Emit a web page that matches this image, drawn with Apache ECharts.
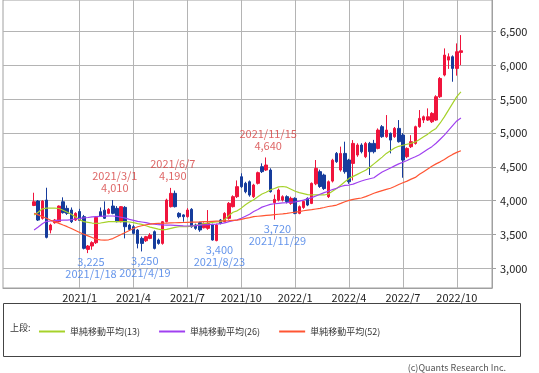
<!DOCTYPE html>
<html><head><meta charset="utf-8">
<script src="https://cdn.jsdelivr.net/npm/echarts@6/dist/echarts.min.js"></script>
<style>html,body{margin:0;padding:0;background:#fff}#c{width:539px;height:373px}</style>
</head><body><div id="c"></div>
<script>
const FONT = '"Noto Sans CJK JP","Noto Sans",sans-serif';
// weekly category axis
const firstWeek = [2020, 8, 31];
const weekCount = 118;
const candleStart = '2020/10/19';
// weekly candles (from 2020/10/19)
const opens = [3930,3995,3739,4010,3566,3675,3690,3985,3887,3862,
3714,3840,3764,3280,3330,3379,3838,3860,3813,3921,
3887,3690,3902,3640,3616,3566,3443,3408,3443,3542,
3419,3369,3690,3912,4109,3813,3790,3764,3873,3641,
3675,3600,3591,3641,3410,3715,3690,3739,3912,4060,
4355,4257,4281,4060,4257,4503,4454,4454,3971,4010,
4010,4060,3961,4035,3813,3900,4035,3960,4250,4430,
4380,4060,4290,4700,4454,4700,4602,4552,4676,4824,
4651,4848,4848,4774,5095,4947,4996,4947,5070,4972,
4651,4799,4848,5095,5193,5193,5168,5193,5538,5859,
6080,6130,5957,6194];
const closes = [3985,3714,3995,3458,3640,3714,3921,3823,3813,3690,
3813,3710,3296,3330,3380,3754,3774,3740,3872,3813,
3690,3912,3616,3576,3517,3369,3369,3468,3492,3295,
3369,3690,4010,4109,3912,3764,3764,3862,3616,3591,
3567,3660,3665,3419,3641,3665,3813,3961,4060,4208,
4207,4133,4084,4232,4415,4430,4528,4134,4020,4158,
4060,3986,4035,3813,3912,3990,3936,4257,4478,4210,
4180,4281,4600,4577,4700,4429,4281,4848,4824,4725,
4848,4725,4725,5045,4947,5045,4897,5070,4873,4601,
4774,4873,5095,5218,5242,5242,5292,5538,5809,6154,
6130,5957,6204,6218];
const lows = [3920,3700,3720,3443,3517,3660,3680,3810,3790,3670,
3700,3700,3280,3225,3275,3360,3760,3730,3800,3800,
3680,3680,3443,3560,3500,3295,3250,3390,3430,3280,
3350,3350,3680,3900,3900,3740,3690,3750,3600,3570,
3540,3590,3570,3410,3400,3650,3680,3720,3900,4040,
4190,4110,4060,4040,4240,4410,4440,4120,3720,3990,
3990,3960,3940,3800,3800,3880,3920,3950,4230,4190,
4160,4040,4270,4560,4430,4400,4250,4300,4650,4700,
4630,4380,4700,4760,4930,4930,4700,4930,4860,4340,
4630,4780,4830,5080,5150,5180,5150,5180,5520,5840,
5950,5760,5850,6006];
const highs = [4118,4010,4010,4192,3660,3730,3930,4050,3930,3900,
3830,3880,3790,3345,3400,3770,3900,3990,3890,4010,
3920,3920,3920,3660,3640,3580,3470,3480,3520,3560,
3440,3700,4030,4190,4150,3830,3800,3890,3890,3660,
3690,3680,3862,3660,3660,3730,3830,3980,4080,4300,
4405,4280,4300,4250,4430,4553,4640,4480,4090,4180,
4080,4080,4060,4050,3930,4000,4050,4270,4602,4460,
4400,4300,4620,4720,4800,4873,4620,4897,4850,4850,
4870,4870,4900,5070,5119,5267,5010,5090,5193,5000,
4790,4970,5110,5341,5260,5366,5310,5560,5830,6253,
6180,6150,6327,6450];
// moving averages
const ma13 = [3790,3830,3880,3890,3890,3890,3885,3860,3830,3800,
3760,3720,3690,3680,3670,3665,3670,3680,3690,3690,
3690,3690,3690,3685,3675,3660,3650,3630,3610,3595,
3580,3570,3575,3590,3605,3615,3615,3616,3625,3635,
3645,3660,3670,3680,3685,3690,3720,3780,3830,3850,
3890,3940,3980,4015,4060,4100,4125,4160,4180,4205,
4210,4200,4170,4140,4120,4105,4090,4085,4085,4085,
4085,4100,4140,4180,4230,4280,4330,4360,4390,4420,
4450,4495,4545,4595,4645,4700,4740,4780,4805,4820,
4835,4850,4870,4905,4945,4985,5030,5070,5150,5240,
5340,5440,5540,5610];
const ma26 = [3566,3610,3660,3695,3700,3705,3710,3712,3714,3720,
3730,3740,3745,3752,3760,3764,3768,3772,3774,3774,
3768,3755,3742,3725,3710,3695,3685,3675,3662,3652,
3645,3642,3640,3638,3636,3632,3628,3626,3628,3632,
3638,3642,3646,3650,3653,3660,3672,3690,3705,3716,
3740,3770,3800,3840,3870,3905,3925,3945,3955,3962,
3968,3972,3978,3984,3995,4010,4028,4045,4070,4095,
4120,4140,4165,4185,4210,4228,4232,4245,4270,4292,
4310,4325,4340,4385,4425,4455,4485,4515,4545,4570,
4595,4625,4650,4680,4720,4760,4800,4850,4910,4970,
5040,5110,5180,5225];
const ma52 = [3815,3790,3765,3740,3710,3690,3665,3640,3616,3590,
3560,3530,3505,3480,3455,3430,3420,3418,3422,3440,
3470,3500,3530,3560,3590,3615,3630,3645,3655,3660,
3664,3667,3670,3672,3674,3676,3678,3680,3682,3684,
3686,3690,3692,3695,3698,3700,3703,3706,3710,3714,
3725,3738,3750,3764,3770,3776,3782,3788,3794,3800,
3806,3813,3822,3830,3840,3852,3860,3868,3878,3887,
3900,3915,3925,3936,3960,3985,4005,4020,4030,4040,
4060,4085,4110,4130,4150,4168,4185,4210,4240,4265,
4290,4320,4345,4390,4430,4470,4510,4545,4575,4610,
4650,4685,4715,4740];
const maNames = ['単純移動平均(13)','単純移動平均(26)','単純移動平均(52)'];
const maColors = ['#a6d22a','#a040f0','#ff5533'];
// axis ticks
const quarterDates = ['2021/1/4','2021/4/5','2021/7/5','2021/10/4','2022/1/3','2022/4/4','2022/7/4','2022/10/3'];
const quarterLabels = ['2021/1','2021/4','2021/7','2021/10','2022/1','2022/4','2022/7','2022/10'];
const yTicks = [3000,3500,4000,4500,5000,5500,6000,6500];
// annotations
const highMarkDates = ['2021/3/1','2021/6/7','2021/11/15'];
const highMarkValues = [4010,4190,4640];
const lowMarkDates = ['2021/1/18','2021/4/19','2021/8/23','2021/11/29'];
const lowMarkValues = [3225,3250,3400,3720];

function fmtDate(d){return d.getUTCFullYear()+'/'+(d.getUTCMonth()+1)+'/'+d.getUTCDate();}
const cats = [];
const t0 = Date.UTC(firstWeek[0], firstWeek[1]-1, firstWeek[2]);
for (let i=0;i<weekCount;i++) cats.push(fmtDate(new Date(t0 + i*7*86400000)));
const s0 = cats.indexOf(candleStart);
const pad = arr => cats.map((c,i)=>{const k=i-s0; return (k>=0 && k<arr.length) ? arr[k] : '-';});
const candleData = cats.map((c,i)=>{const k=i-s0; return (k>=0 && k<opens.length) ? [opens[k],closes[k],lows[k],highs[k]] : '-';});
const fmtNum = v => Number(v).toLocaleString('en-US');
const isQuarter = (idx, val) => quarterDates.indexOf(val) >= 0;

const chart = echarts.init(document.getElementById('c'), null, {renderer:'canvas'});
const series = [{
  type:'candlestick', data:candleData, barWidth:3,
  itemStyle:{color:'#f0143c', color0:'#163c9c', borderColor:'#f0143c', borderColor0:'#163c9c', borderWidth:1}
}];
maNames.forEach((n,j)=>{
  series.push({type:'line', name:n, data:pad([ma13,ma26,ma52][j]), showSymbol:false, symbol:'none',
    itemStyle:{color:maColors[j]}, lineStyle:{width:1.2, color:maColors[j]}, z:3});
});
series.push({type:'scatter', symbolSize:0, z:5,
  data: highMarkDates.map((d,i)=>[d, highMarkValues[i]]),
  label:{show:true, position:'top', distance:6, offset:[2,0], color:'#d64040', fontSize:11, lineHeight:12, fontFamily:FONT,
    formatter:p=>p.value[0]+'\n'+fmtNum(p.value[1])}
});
series.push({type:'scatter', symbolSize:0, z:5,
  data: lowMarkDates.map((d,i)=>[d, lowMarkValues[i]]),
  label:{show:true, position:'bottom', distance:3, offset:[3,0], color:'#3f7be6', fontSize:11, lineHeight:12, fontFamily:FONT,
    formatter:p=>fmtNum(p.value[1])+'\n'+p.value[0]}
});

chart.setOption({
  animation:false,
  textStyle:{fontFamily:FONT},
  grid:{left:3, right:47, top:0, bottom:85, show:true, borderColor:'#a0a0a0', borderWidth:1},
  xAxis:{type:'category', data:cats, boundaryGap:true,
    axisLine:{show:true, lineStyle:{color:'#a0a0a0'}},
    axisTick:{show:true, inside:true, length:288, alignWithLabel:true, interval:isQuarter, lineStyle:{color:'#b4b4b4'}},
    axisLabel:{interval:isQuarter, margin:4, color:'#222', fontSize:11, fontFamily:FONT,
      formatter:v=>quarterLabels[quarterDates.indexOf(v)]},
    splitLine:{show:false}},
  yAxis:{type:'value', position:'right', min:2709, max:6969, scale:true, splitNumber:8,
    axisLine:{show:true, lineStyle:{color:'#a0a0a0'}},
    axisTick:{show:true, length:4, customValues:yTicks, lineStyle:{color:'#a0a0a0'}},
    axisLabel:{customValues:yTicks, margin:8, color:'#222', fontSize:11, fontFamily:FONT, formatter:v=>fmtNum(v)},
    splitLine:{show:true, lineStyle:{color:'#b4b4b4'}}},
  legend:{data:maNames.map((n,j)=>({name:n, icon:'rect', itemStyle:{color:maColors[j], borderWidth:0}})),
    left:34, top:322, itemWidth:26, itemHeight:2, itemGap:19, selectedMode:false,
    textStyle:{fontSize:9, color:'#333', fontFamily:FONT}},
  graphic:[
    {type:'rect', shape:{x:3.5, y:303.5, width:517, height:53}, style:{fill:'none', stroke:'#444', lineWidth:1}},
    {type:'text', x:10, y:328, style:{text:'上段:', font:'9px '+FONT, fill:'#333', verticalAlign:'middle'}},
    {type:'text', x:506, y:368, style:{text:'(c)Quants Research Inc.', font:'9px '+FONT, fill:'#555', align:'right', verticalAlign:'middle'}}
  ],
  series:series
});
</script></body></html>
